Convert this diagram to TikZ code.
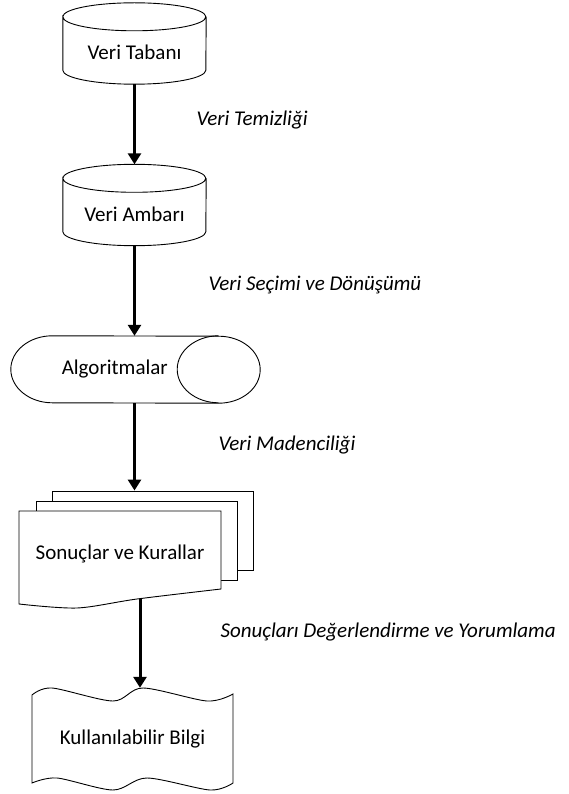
\documentclass[tikz,border=0pt]{standalone}
\usepackage{fontspec}
\setmainfont{Carlito}
\usetikzlibrary{arrows.meta}
\def\boxFont{\fontsize{21}{25}\selectfont}
\def\dbRx{71.5pt}
\def\dbRy{14pt}
\def\algRx{41.5pt}
\def\algRy{33.5pt}
\newcommand{\dbshape}[1]{%
% #1 = node, drawn as an upright cylinder
\draw[outline] ([yshift=-\dbRy]#1.north west)
  arc[start angle=180, end angle=0, x radius=\dbRx, y radius=\dbRy]
  arc[start angle=0, end angle=-180, x radius=\dbRx, y radius=\dbRy]
  -- ([yshift=\dbRy]#1.south west)
  arc[start angle=180, end angle=360, x radius=\dbRx, y radius=\dbRy]
  -- ([yshift=-\dbRy]#1.north east);
}
\newcommand{\algshape}[1]{%
% #1 = node, drawn as a lying cylinder
\draw[outline] ([xshift=\algRx]#1.north west)
  arc[start angle=90, end angle=270, x radius=\algRx, y radius=\algRy]
  -- (#1.south east)
  arc[start angle=270, end angle=450, x radius=\algRx, y radius=\algRy]
  -- cycle;
\draw[outline] (#1.north east)
  arc[start angle=90, end angle=270, x radius=\algRx, y radius=\algRy];
}
\begin{document}
\begin{tikzpicture}[
    x=1pt, y=-1pt,
    >={Triangle[length=11pt,width=13pt]},
    flow/.style={->, line width=3pt},
    outline/.style={draw, line width=0.9pt},
    dbase/.style={font=\boxFont, minimum width=143pt, minimum height=81pt, inner sep=0pt, text height=33pt, text depth=0pt},
    algo/.style={font=\boxFont, minimum width=207.5pt, minimum height=67pt, inner sep=0pt},
    page/.style={outline, fill=white, minimum width=201pt, minimum height=79pt},
    stage/.style={font=\boxFont\itshape, anchor=west}
]
\useasboundingbox (0,0) rectangle (568,794);
\node[dbase] (tabani) at (134.5,43.5) {Veri Tabanı};
\dbshape{tabani}
\node[dbase] (ambari) at (134.5,205) {Veri Ambarı};
\dbshape{ambari}
\node[algo] (alg) at (114.75,369.5) {Algoritmalar};
\algshape{alg}

% document stack
\node[page] (pg3) at (152.5,530.5) {};
\node[page] (pg2) at (136.5,540.5) {};
\draw[outline, fill=white] (19,511) -- (221,511) -- plot[smooth] coordinates {(221,589) (137,599) (77,608) (19,604)} -- cycle;
\node[font=\boxFont] (sonuc) at (120,554) {Sonuçlar ve Kurallar};

% wavy tape
\draw[outline] plot[smooth] coordinates {(32,695) (52,688) (113,701) (143,688) (207,701) (233,694)}
  -- plot[smooth] coordinates {(233,783) (210,790) (147,778) (113,790) (57,778) (32,783)} -- cycle;
\node[font=\boxFont, minimum width=201pt, minimum height=102pt] (bilgi) at (132.5,739) {Kullanılabilir Bilgi};

\draw[flow] (tabani) -- (ambari);
\draw[flow] (ambari.south) -- (ambari.south |- alg.north);
\draw[flow] (ambari.south |- alg.south) -- (ambari.south |- pg3.north);
\coordinate (sonucOut) at (140,599);
\draw[flow] (sonucOut) -- (sonucOut |- bilgi.north);

\node[stage] (temiz) at (193,120) {Veri Temizliği};
\node[stage] (secim) at (205,285) {Veri Seçimi ve Dönüşümü};
\node[stage] (maden) at (215,445) {Veri Madenciliği};
\node[stage] (yorum) at (217,632) {Sonuçları Değerlendirme ve Yorumlama};
\end{tikzpicture}
\end{document}
